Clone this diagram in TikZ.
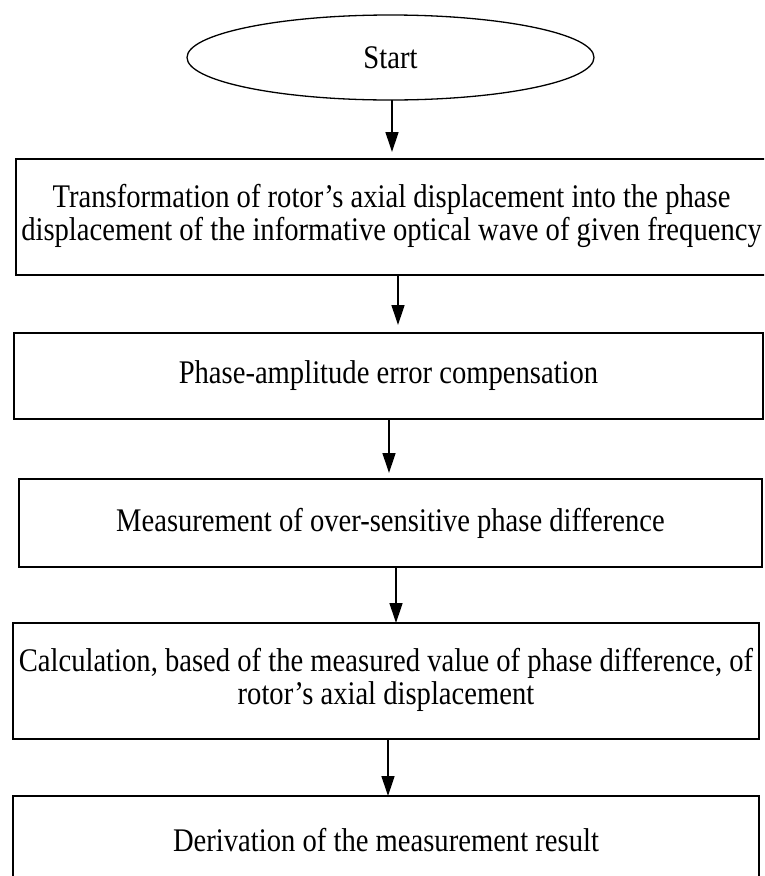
\documentclass[tikz,border=0pt]{standalone}
\usepackage{fontspec}
\setmainfont{Liberation Serif}
\usetikzlibrary{arrows.meta,shapes.geometric}
\newcommand{\sqz}[1]{\scalebox{0.867}[1]{#1}}
\newcommand{\twolines}[2]{\sqz{\begin{tabular}{@{}c@{}}#1\\#2\end{tabular}}}
\tikzset{
  box/.style={draw, rectangle, line width=1.6pt, inner sep=0pt, outer sep=0pt,
    font=\fontsize{33}{33}\selectfont},
  oval/.style={draw, ellipse, line width=1.3pt, inner sep=0pt, outer sep=0pt,
    font=\fontsize{33}{33}\selectfont},
  arr/.style={-{Triangle[length=20pt,width=13pt]}, line width=1.3pt},
}
\begin{document}
\begin{tikzpicture}[x=1pt,y=-1pt]
\clip (0,0) rectangle (764,876);
\fill[white] (0,0) rectangle (764,876);
\node[oval, minimum width=407pt, minimum height=85pt] (start) at (390.5,57.5) {\sqz{Start}};
\node[box, minimum width=751pt, minimum height=116pt] (b1) at (391.5,217)
  {\twolines{Transformation of rotor’s axial displacement into the phase}{displacement of the informative optical wave of given frequency}};
\node[box, minimum width=749pt, minimum height=86pt] (b2) at (388.5,376)
  {\sqz{Phase-amplitude error compensation}};
\node[box, minimum width=743pt, minimum height=88pt] (b3) at (390.5,523)
  {\sqz{Measurement of over-sensitive phase difference}};
\node[box, minimum width=746pt, minimum height=116pt] (b4) at (386,681)
  {\twolines{Calculation, based of the measured value of phase difference, of}{rotor’s axial displacement}};
\node[box, minimum width=746pt, minimum height=88pt] (b5) at (386,840)
  {\sqz{Derivation of the measurement result}};
\draw[arr, shorten >=7pt] ([xshift=1.5pt]start.south) -- ([xshift=1.5pt]start.south |- b1.north);
\draw[arr, shorten >=8pt] ([xshift=6.5pt]b1.south) -- ([xshift=6.5pt]b1.south |- b2.north);
\draw[arr, shorten >=6pt] ([xshift=0.5pt]b2.south) -- ([xshift=0.5pt]b2.south |- b3.north);
\draw[arr] ([xshift=5.5pt]b3.south) -- ([xshift=5.5pt]b3.south |- b4.north);
\draw[arr] ([xshift=2pt]b4.south) -- ([xshift=2pt]b4.south |- b5.north);
\end{tikzpicture}
\end{document}
